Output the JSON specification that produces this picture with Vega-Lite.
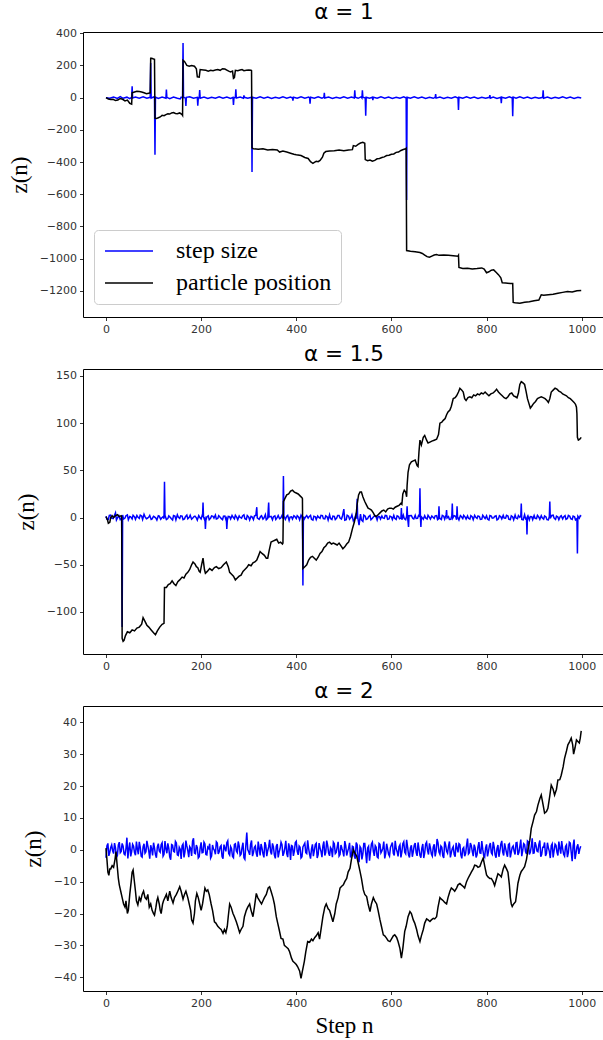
{
"$schema": "https://vega.github.io/schema/vega-lite/v6.json",
"autosize": {"type": "none"},
"padding": {"left": 83, "top": 32, "right": 520, "bottom": 1008},
"background": "white",
"config": {
  "view": {"stroke": "#000", "strokeWidth": 1},
  "axis": {"labelFont": "DejaVu Sans", "labelFontSize": 11, "labelColor": "#333", "tickColor": "#000", "tickSize": 3.5, "tickWidth": 0.8, "domain": false, "grid": false, "labelPadding": 3, "labelFlush": false, "labelOverlap": false, "format": "d", "titleFont": "Liberation Serif", "titleFontSize": 23, "titleFontWeight": "normal", "titleColor": "#000"},
  "title": {"font": "DejaVu Sans", "fontSize": 21.5, "fontWeight": "normal", "color": "#000", "offset": 4, "frame": "group"},
  "style": {"group-title": {"font": "DejaVu Sans", "fontSize": 21.5, "fontWeight": "normal", "fill": "#000"}},
  "line": {"strokeWidth": 1.5}
},
"datasets": {
"p1s": [{"n":0,"z":0},{"n":8,"z":-3},{"n":16,"z":4},{"n":24,"z":-5},{"n":30,"z":6},{"n":36,"z":-4},{"n":44,"z":3},{"n":50,"z":-6},{"n":54,"z":2},{"n":55,"z":70},{"n":56,"z":-2},{"n":62,"z":4},{"n":70,"z":-3},{"n":78,"z":5},{"n":86,"z":-4},{"n":93,"z":2},{"n":94,"z":215},{"n":95,"z":-3},{"n":100,"z":4},{"n":102,"z":-2},{"n":103,"z":-355},{"n":104,"z":3},{"n":110,"z":-5},{"n":118,"z":4},{"n":126,"z":-3},{"n":127,"z":50},{"n":128,"z":2},{"n":134,"z":-6},{"n":142,"z":4},{"n":150,"z":-4},{"n":156,"z":-8},{"n":158,"z":3},{"n":161,"z":-2},{"n":162,"z":340},{"n":163,"z":3},{"n":167,"z":-3},{"n":168,"z":-52},{"n":169,"z":2},{"n":176,"z":5},{"n":184,"z":-4},{"n":192,"z":2},{"n":193,"z":-50},{"n":194,"z":-3},{"n":196,"z":2},{"n":197,"z":48},{"n":198,"z":-3},{"n":206,"z":4},{"n":214,"z":-5},{"n":222,"z":3},{"n":230,"z":-4},{"n":238,"z":5},{"n":246,"z":-3},{"n":254,"z":4},{"n":262,"z":-5},{"n":267,"z":2},{"n":268,"z":-45},{"n":269,"z":-3},{"n":272,"z":3},{"n":273,"z":52},{"n":274,"z":-2},{"n":282,"z":4},{"n":289,"z":-3},{"n":290,"z":14},{"n":291,"z":2},{"n":298,"z":-4},{"n":306,"z":3},{"n":307,"z":-462},{"n":308,"z":2},{"n":316,"z":-4},{"n":324,"z":5},{"n":332,"z":-3},{"n":340,"z":4},{"n":348,"z":-5},{"n":356,"z":3},{"n":364,"z":-4},{"n":372,"z":5},{"n":380,"z":-3},{"n":388,"z":4},{"n":392,"z":-2},{"n":393,"z":-18},{"n":394,"z":3},{"n":402,"z":-4},{"n":410,"z":5},{"n":418,"z":-3},{"n":426,"z":4},{"n":428,"z":-2},{"n":429,"z":-38},{"n":430,"z":3},{"n":438,"z":-4},{"n":446,"z":5},{"n":454,"z":-3},{"n":458,"z":2},{"n":459,"z":30},{"n":460,"z":-2},{"n":468,"z":4},{"n":476,"z":-5},{"n":484,"z":3},{"n":492,"z":-4},{"n":500,"z":5},{"n":508,"z":-3},{"n":516,"z":4},{"n":522,"z":-2},{"n":523,"z":45},{"n":524,"z":3},{"n":530,"z":-4},{"n":536,"z":5},{"n":538,"z":-2},{"n":539,"z":45},{"n":540,"z":3},{"n":545,"z":-2},{"n":546,"z":-112},{"n":547,"z":3},{"n":554,"z":-4},{"n":560,"z":2},{"n":561,"z":-15},{"n":562,"z":3},{"n":570,"z":-4},{"n":578,"z":5},{"n":586,"z":-3},{"n":594,"z":4},{"n":602,"z":-5},{"n":610,"z":3},{"n":618,"z":-4},{"n":626,"z":5},{"n":631,"z":-2},{"n":632,"z":-636},{"n":633,"z":3},{"n":640,"z":-4},{"n":648,"z":5},{"n":656,"z":-3},{"n":664,"z":4},{"n":672,"z":-5},{"n":680,"z":3},{"n":688,"z":-4},{"n":692,"z":2},{"n":693,"z":22},{"n":694,"z":-3},{"n":702,"z":4},{"n":710,"z":-5},{"n":718,"z":3},{"n":726,"z":-4},{"n":734,"z":5},{"n":740,"z":-2},{"n":741,"z":-76},{"n":742,"z":3},{"n":750,"z":-4},{"n":758,"z":5},{"n":766,"z":-3},{"n":774,"z":4},{"n":782,"z":-5},{"n":790,"z":3},{"n":798,"z":-4},{"n":806,"z":2},{"n":807,"z":16},{"n":808,"z":-3},{"n":814,"z":4},{"n":822,"z":-5},{"n":830,"z":2},{"n":831,"z":-35},{"n":832,"z":3},{"n":840,"z":-4},{"n":848,"z":5},{"n":854,"z":-2},{"n":855,"z":-115},{"n":856,"z":3},{"n":862,"z":-4},{"n":870,"z":5},{"n":878,"z":-3},{"n":886,"z":4},{"n":894,"z":-5},{"n":902,"z":3},{"n":910,"z":-4},{"n":918,"z":2},{"n":919,"z":45},{"n":920,"z":-3},{"n":928,"z":4},{"n":936,"z":-5},{"n":944,"z":3},{"n":952,"z":-4},{"n":960,"z":5},{"n":968,"z":-3},{"n":976,"z":4},{"n":984,"z":-5},{"n":992,"z":3},{"n":999,"z":-2}],
"p1p": [{"n":0,"z":0},{"n":5,"z":-8},{"n":10,"z":-12},{"n":15,"z":-10},{"n":20,"z":-18},{"n":25,"z":-15},{"n":30,"z":-5},{"n":35,"z":-10},{"n":40,"z":-20},{"n":45,"z":-15},{"n":50,"z":-35},{"n":54,"z":-40},{"n":55,"z":30},{"n":60,"z":35},{"n":65,"z":40},{"n":70,"z":38},{"n":75,"z":35},{"n":80,"z":30},{"n":85,"z":25},{"n":90,"z":28},{"n":93,"z":30},{"n":94,"z":245},{"n":96,"z":245},{"n":100,"z":240},{"n":102,"z":238},{"n":103,"z":-128},{"n":106,"z":-130},{"n":110,"z":-125},{"n":114,"z":-120},{"n":118,"z":-110},{"n":122,"z":-112},{"n":126,"z":-105},{"n":130,"z":-100},{"n":134,"z":-102},{"n":138,"z":-95},{"n":142,"z":-92},{"n":146,"z":-98},{"n":150,"z":-100},{"n":155,"z":-95},{"n":160,"z":-105},{"n":161,"z":-110},{"n":162,"z":232},{"n":165,"z":225},{"n":170,"z":200},{"n":175,"z":195},{"n":180,"z":200},{"n":186,"z":195},{"n":190,"z":180},{"n":192,"z":130},{"n":196,"z":128},{"n":198,"z":175},{"n":205,"z":172},{"n":210,"z":170},{"n":215,"z":165},{"n":220,"z":170},{"n":225,"z":168},{"n":230,"z":172},{"n":235,"z":175},{"n":240,"z":170},{"n":245,"z":180},{"n":250,"z":178},{"n":255,"z":170},{"n":258,"z":165},{"n":262,"z":160},{"n":266,"z":165},{"n":268,"z":120},{"n":270,"z":125},{"n":272,"z":170},{"n":277,"z":168},{"n":282,"z":172},{"n":286,"z":175},{"n":290,"z":168},{"n":295,"z":170},{"n":300,"z":172},{"n":305,"z":170},{"n":306,"z":168},{"n":307,"z":-312},{"n":310,"z":-318},{"n":320,"z":-320},{"n":330,"z":-318},{"n":340,"z":-325},{"n":350,"z":-322},{"n":360,"z":-325},{"n":365,"z":-338},{"n":372,"z":-332},{"n":380,"z":-338},{"n":388,"z":-345},{"n":395,"z":-352},{"n":400,"z":-355},{"n":410,"z":-360},{"n":418,"z":-372},{"n":425,"z":-378},{"n":430,"z":-398},{"n":435,"z":-408},{"n":438,"z":-402},{"n":442,"z":-396},{"n":446,"z":-398},{"n":450,"z":-390},{"n":455,"z":-370},{"n":458,"z":-345},{"n":462,"z":-335},{"n":470,"z":-332},{"n":480,"z":-330},{"n":490,"z":-325},{"n":500,"z":-330},{"n":510,"z":-325},{"n":518,"z":-323},{"n":520,"z":-298},{"n":525,"z":-302},{"n":530,"z":-290},{"n":535,"z":-282},{"n":540,"z":-278},{"n":544,"z":-283},{"n":545,"z":-385},{"n":550,"z":-392},{"n":555,"z":-388},{"n":560,"z":-395},{"n":565,"z":-390},{"n":570,"z":-380},{"n":575,"z":-378},{"n":580,"z":-372},{"n":585,"z":-368},{"n":590,"z":-360},{"n":595,"z":-358},{"n":600,"z":-352},{"n":605,"z":-350},{"n":610,"z":-340},{"n":615,"z":-338},{"n":620,"z":-328},{"n":625,"z":-322},{"n":630,"z":-318},{"n":631,"z":-315},{"n":632,"z":-950},{"n":640,"z":-955},{"n":650,"z":-958},{"n":660,"z":-962},{"n":665,"z":-968},{"n":670,"z":-978},{"n":675,"z":-988},{"n":680,"z":-992},{"n":685,"z":-985},{"n":690,"z":-978},{"n":695,"z":-975},{"n":700,"z":-980},{"n":710,"z":-978},{"n":720,"z":-980},{"n":730,"z":-982},{"n":740,"z":-985},{"n":741,"z":-980},{"n":742,"z":-1055},{"n":750,"z":-1062},{"n":760,"z":-1060},{"n":770,"z":-1065},{"n":780,"z":-1062},{"n":790,"z":-1058},{"n":795,"z":-1065},{"n":800,"z":-1088},{"n":805,"z":-1082},{"n":810,"z":-1072},{"n":815,"z":-1070},{"n":820,"z":-1085},{"n":825,"z":-1100},{"n":830,"z":-1120},{"n":833,"z":-1150},{"n":840,"z":-1152},{"n":850,"z":-1155},{"n":855,"z":-1155},{"n":856,"z":-1272},{"n":860,"z":-1275},{"n":870,"z":-1278},{"n":880,"z":-1272},{"n":890,"z":-1268},{"n":900,"z":-1262},{"n":910,"z":-1258},{"n":915,"z":-1225},{"n":920,"z":-1228},{"n":930,"z":-1225},{"n":940,"z":-1222},{"n":950,"z":-1215},{"n":960,"z":-1210},{"n":970,"z":-1205},{"n":980,"z":-1208},{"n":990,"z":-1200},{"n":999,"z":-1198}],
"p2s": [{"n":0,"z":1.5},{"n":5,"z":-2},{"n":10,"z":2.5},{"n":15,"z":-1},{"n":20,"z":5},{"n":25,"z":0.5},{"n":30,"z":-2.2},{"n":33,"z":1},{"n":34,"z":-116},{"n":35,"z":2.8},{"n":40,"z":-0.5},{"n":45,"z":2.8},{"n":50,"z":1.2},{"n":55,"z":-1.5},{"n":60,"z":0.8},{"n":65,"z":2.2},{"n":70,"z":-0.8},{"n":75,"z":1.6},{"n":80,"z":3.5},{"n":85,"z":-1.2},{"n":90,"z":0.6},{"n":95,"z":-2},{"n":100,"z":1.4},{"n":105,"z":-0.6},{"n":110,"z":2},{"n":115,"z":-1.8},{"n":120,"z":0.9},{"n":122,"z":-1},{"n":123,"z":38},{"n":124,"z":2.4},{"n":130,"z":-1.1},{"n":135,"z":0.3},{"n":140,"z":-2.6},{"n":145,"z":1.7},{"n":150,"z":3},{"n":155,"z":-0.9},{"n":160,"z":1.5},{"n":165,"z":-1.4},{"n":170,"z":2.6},{"n":175,"z":0.4},{"n":180,"z":-1.7},{"n":185,"z":1.1},{"n":190,"z":-0.3},{"n":195,"z":2.1},{"n":200,"z":-1.5},{"n":203,"z":0.8},{"n":204,"z":16},{"n":205,"z":0.8},{"n":208,"z":-1},{"n":209,"z":-12},{"n":210,"z":-2.8},{"n":215,"z":1.9},{"n":220,"z":-0.6},{"n":225,"z":1.3},{"n":230,"z":2.7},{"n":235,"z":-1},{"n":240,"z":0.5},{"n":245,"z":-2.2},{"n":250,"z":1.6},{"n":253,"z":-1},{"n":254,"z":-12},{"n":255,"z":-3.2},{"n":260,"z":0.9},{"n":265,"z":2.3},{"n":270,"z":-1.3},{"n":275,"z":0.2},{"n":280,"z":1.8},{"n":285,"z":-0.7},{"n":290,"z":2.9},{"n":295,"z":-1.9},{"n":300,"z":0.6},{"n":305,"z":1.4},{"n":310,"z":-2.1},{"n":315,"z":2.5},{"n":317,"z":11},{"n":318,"z":-0.4},{"n":325,"z":1.1},{"n":330,"z":-1.6},{"n":335,"z":3.2},{"n":340,"z":-0.8},{"n":342,"z":16},{"n":343,"z":0.7},{"n":350,"z":-2.4},{"n":355,"z":1.9},{"n":360,"z":0.3},{"n":365,"z":-1.2},{"n":370,"z":2.2},{"n":372,"z":-0.9},{"n":373,"z":44},{"n":374,"z":1.5},{"n":380,"z":1.5},{"n":385,"z":-3},{"n":390,"z":0.8},{"n":395,"z":2},{"n":400,"z":-1.1},{"n":405,"z":0.5},{"n":410,"z":2.6},{"n":413,"z":-1.8},{"n":414,"z":-72},{"n":415,"z":1},{"n":420,"z":1},{"n":425,"z":-0.5},{"n":430,"z":2.4},{"n":435,"z":-2.7},{"n":440,"z":0.9},{"n":445,"z":1.7},{"n":450,"z":-0.8},{"n":455,"z":2.1},{"n":460,"z":-1.5},{"n":465,"z":0.6},{"n":470,"z":3.1},{"n":475,"z":-2},{"n":480,"z":1.2},{"n":485,"z":-0.4},{"n":490,"z":2.3},{"n":495,"z":-1.6},{"n":500,"z":9},{"n":505,"z":-2.3},{"n":510,"z":1.4},{"n":515,"z":0.2},{"n":520,"z":-3.5},{"n":525,"z":2.8},{"n":527,"z":-1},{"n":528,"z":20},{"n":529,"z":1},{"n":532,"z":-8},{"n":535,"z":3.6},{"n":540,"z":-4},{"n":545,"z":1.5},{"n":550,"z":-1.2},{"n":555,"z":2.4},{"n":560,"z":-0.6},{"n":565,"z":1.8},{"n":570,"z":-2.5},{"n":575,"z":0.9},{"n":580,"z":1.6},{"n":585,"z":-0.8},{"n":590,"z":2},{"n":595,"z":-1.4},{"n":600,"z":0.7},{"n":605,"z":2.3},{"n":610,"z":-1.9},{"n":615,"z":1.1},{"n":620,"z":-0.5},{"n":621,"z":10},{"n":622,"z":-2.2},{"n":625,"z":2.6},{"n":630,"z":-2.2},{"n":633,"z":12},{"n":634,"z":0.4},{"n":636,"z":-10},{"n":637,"z":1.9},{"n":645,"z":-1},{"n":650,"z":2.5},{"n":655,"z":-0.7},{"n":659,"z":1.3},{"n":660,"z":31},{"n":661,"z":0.5},{"n":662,"z":-10},{"n":663,"z":0.8},{"n":670,"z":2},{"n":675,"z":-1.5},{"n":680,"z":0.3},{"n":685,"z":1.7},{"n":690,"z":-0.9},{"n":695,"z":2.2},{"n":699,"z":-1.3},{"n":700,"z":12},{"n":701,"z":0.6},{"n":705,"z":-2},{"n":710,"z":1.5},{"n":715,"z":2.8},{"n":716,"z":8},{"n":717,"z":-0.4},{"n":720,"z":1},{"n":725,"z":-1.8},{"n":727,"z":2.3},{"n":728,"z":15},{"n":729,"z":-0.6},{"n":735,"z":1.4},{"n":737,"z":-2.3},{"n":738,"z":12},{"n":739,"z":0.9},{"n":745,"z":2.1},{"n":750,"z":-1.1},{"n":755,"z":0.5},{"n":760,"z":1.8},{"n":765,"z":-1.6},{"n":770,"z":0.7},{"n":775,"z":2.4},{"n":780,"z":-0.9},{"n":785,"z":1.2},{"n":790,"z":-1.7},{"n":795,"z":0.4},{"n":800,"z":2},{"n":805,"z":-2.6},{"n":810,"z":1.5},{"n":815,"z":-0.3},{"n":820,"z":1.9},{"n":825,"z":-1.4},{"n":830,"z":0.8},{"n":835,"z":2.3},{"n":840,"z":-0.7},{"n":845,"z":1.6},{"n":850,"z":-2.1},{"n":855,"z":0.6},{"n":860,"z":2.7},{"n":865,"z":-1.2},{"n":870,"z":0.3},{"n":872,"z":1.8},{"n":873,"z":15},{"n":874,"z":-1.9},{"n":880,"z":3},{"n":884,"z":-0.5},{"n":885,"z":-18},{"n":886,"z":1.1},{"n":890,"z":-2.3},{"n":895,"z":0.9},{"n":900,"z":2.2},{"n":905,"z":-1},{"n":910,"z":0.4},{"n":915,"z":2},{"n":920,"z":-1.6},{"n":925,"z":0.7},{"n":930,"z":-2.4},{"n":932,"z":1.3},{"n":933,"z":17},{"n":934,"z":-0.8},{"n":940,"z":2.5},{"n":945,"z":-1.9},{"n":950,"z":0.6},{"n":955,"z":1.2},{"n":960,"z":-1.5},{"n":965,"z":2.1},{"n":970,"z":-0.9},{"n":975,"z":1.4},{"n":980,"z":-2},{"n":985,"z":0.8},{"n":990,"z":-1.1},{"n":991,"z":-38},{"n":992,"z":1.5},{"n":995,"z":-0.6},{"n":999,"z":1.2},
{"n":2,"z":-1.8},{"n":7,"z":2.2},{"n":12,"z":-0.6},{"n":17,"z":1.4},{"n":22,"z":-2.5},{"n":27,"z":2},{"n":32,"z":-1.2},{"n":37,"z":-1.6},{"n":42,"z":1.9},{"n":47,"z":-2.3},{"n":52,"z":0.7},{"n":57,"z":2.4},{"n":62,"z":-1.9},{"n":67,"z":0.5},{"n":72,"z":2.6},{"n":77,"z":-2},{"n":82,"z":1.1},{"n":87,"z":-0.7},{"n":92,"z":2.3},{"n":97,"z":-1.4},{"n":102,"z":0.8},{"n":107,"z":-2.6},{"n":112,"z":1.5},{"n":117,"z":-0.4},{"n":127,"z":-2.1},{"n":132,"z":1.8},{"n":137,"z":-1},{"n":142,"z":2.2},{"n":147,"z":-2.4},{"n":152,"z":0.6},{"n":157,"z":1.9},{"n":162,"z":-2.2},{"n":167,"z":0.9},{"n":172,"z":-1.3},{"n":177,"z":2.5},{"n":182,"z":-0.8},{"n":187,"z":1.6},{"n":192,"z":-2.7},{"n":197,"z":0.4},{"n":202,"z":2},{"n":207,"z":-1.9},{"n":212,"z":0.7},{"n":217,"z":-2.3},{"n":222,"z":1.8},{"n":227,"z":-0.5},{"n":232,"z":-1.6},{"n":237,"z":2.1},{"n":242,"z":-0.9},{"n":247,"z":1.4},{"n":252,"z":-2},{"n":257,"z":1.2},{"n":262,"z":-1.5},{"n":267,"z":0.6},{"n":272,"z":2.4},{"n":277,"z":-2.2},{"n":282,"z":0.3},{"n":287,"z":1.7},{"n":292,"z":-1.1},{"n":297,"z":2.2},{"n":302,"z":-2.5},{"n":307,"z":0.9},{"n":312,"z":1.6},{"n":322,"z":-1.8},{"n":327,"z":2},{"n":332,"z":-0.6},{"n":337,"z":-2.2},{"n":347,"z":1.3},{"n":352,"z":1},{"n":357,"z":-2},{"n":362,"z":2.3},{"n":367,"z":-0.7},{"n":377,"z":-1.9},{"n":382,"z":2.4},{"n":387,"z":0.5},{"n":392,"z":-1.6},{"n":397,"z":1.1},{"n":402,"z":2.1},{"n":407,"z":-2.4},{"n":412,"z":0.8},{"n":417,"z":-1.5},{"n":422,"z":2.2},{"n":427,"z":1},{"n":432,"z":-1.8},{"n":437,"z":1.5},{"n":442,"z":-2.1},{"n":447,"z":0.4},{"n":452,"z":2.4},{"n":457,"z":-1.2},{"n":462,"z":1.8},{"n":467,"z":-2.6},{"n":472,"z":-0.9},{"n":477,"z":1.6},{"n":482,"z":-2},{"n":487,"z":2.2},{"n":492,"z":-0.5},{"n":497,"z":1.3},{"n":502,"z":-2.8},{"n":507,"z":2.5},{"n":512,"z":-1.7},{"n":517,"z":2.9},{"n":522,"z":-2.4},{"n":537,"z":-2.5},{"n":542,"z":2.6},{"n":547,"z":-1.9},{"n":552,"z":1},{"n":557,"z":-2.3},{"n":562,"z":0.6},{"n":567,"z":2},{"n":572,"z":1.2},{"n":577,"z":-1.6},{"n":582,"z":-0.4},{"n":587,"z":2.3},{"n":592,"z":-1.8},{"n":597,"z":1.5},{"n":602,"z":-2},{"n":607,"z":-0.8},{"n":612,"z":1.9},{"n":617,"z":-1.3},{"n":627,"z":-1},{"n":632,"z":1.5},{"n":642,"z":2.1},{"n":647,"z":-1.4},{"n":652,"z":-0.9},{"n":657,"z":2.2},{"n":667,"z":-1.8},{"n":672,"z":-0.4},{"n":677,"z":2.4},{"n":682,"z":-1.6},{"n":687,"z":0.7},{"n":692,"z":1.9},{"n":697,"z":-2.2},{"n":702,"z":-1},{"n":707,"z":2.3},{"n":712,"z":-1.7},{"n":722,"z":-2},{"n":732,"z":2},{"n":742,"z":-2.4},{"n":747,"z":1.1},{"n":752,"z":2.3},{"n":757,"z":-1.5},{"n":762,"z":-0.7},{"n":767,"z":2.1},{"n":772,"z":-2.2},{"n":777,"z":0.5},{"n":782,"z":1.8},{"n":787,"z":-1.9},{"n":792,"z":2.5},{"n":797,"z":-1},{"n":802,"z":-1.5},{"n":807,"z":2.2},{"n":812,"z":-0.6},{"n":817,"z":1.4},{"n":822,"z":-2.5},{"n":827,"z":2},{"n":832,"z":-1.3},{"n":837,"z":-0.5},{"n":842,"z":2.4},{"n":847,"z":-1.9},{"n":852,"z":1.8},{"n":857,"z":-2.4},{"n":862,"z":-0.5},{"n":867,"z":2.1},{"n":877,"z":-2.3},{"n":882,"z":-1.2},{"n":887,"z":2},{"n":892,"z":1.1},{"n":897,"z":-2.1},{"n":902,"z":-0.7},{"n":907,"z":2.4},{"n":912,"z":-1.8},{"n":917,"z":-0.3},{"n":922,"z":1.7},{"n":927,"z":-2.2},{"n":937,"z":2.2},{"n":942,"z":-0.6},{"n":947,"z":1.6},{"n":952,"z":-2.3},{"n":957,"z":2},{"n":962,"z":0.7},{"n":967,"z":-1.8},{"n":972,"z":2.3},{"n":977,"z":-1.2},{"n":982,"z":1.5},{"n":987,"z":-2.4},{"n":997,"z":2}],
"p2p": [{"n":0,"z":1},{"n":3,"z":-2},{"n":5,"z":-6},{"n":8,"z":-5},{"n":10,"z":0},{"n":13,"z":2},{"n":16,"z":0},{"n":20,"z":2},{"n":24,"z":3},{"n":28,"z":1},{"n":32,"z":2},{"n":33,"z":1},{"n":34,"z":-128},{"n":36,"z":-131},{"n":38,"z":-130},{"n":41,"z":-125},{"n":45,"z":-121},{"n":50,"z":-122},{"n":55,"z":-119},{"n":60,"z":-120},{"n":65,"z":-117},{"n":70,"z":-116},{"n":75,"z":-113},{"n":78,"z":-106},{"n":82,"z":-110},{"n":86,"z":-114},{"n":90,"z":-116},{"n":95,"z":-119},{"n":100,"z":-122},{"n":104,"z":-124},{"n":108,"z":-120},{"n":113,"z":-116},{"n":118,"z":-113},{"n":122,"z":-112},{"n":123,"z":-74},{"n":127,"z":-74},{"n":131,"z":-71},{"n":135,"z":-70},{"n":139,"z":-67},{"n":143,"z":-70},{"n":147,"z":-72},{"n":151,"z":-68},{"n":155,"z":-66},{"n":160,"z":-63},{"n":164,"z":-64},{"n":168,"z":-60},{"n":172,"z":-58},{"n":176,"z":-55},{"n":180,"z":-50},{"n":183,"z":-47},{"n":187,"z":-49},{"n":190,"z":-52},{"n":193,"z":-53},{"n":196,"z":-57},{"n":198,"z":-58},{"n":201,"z":-50},{"n":204,"z":-43},{"n":207,"z":-55},{"n":209,"z":-59},{"n":213,"z":-57},{"n":218,"z":-54},{"n":223,"z":-56},{"n":228,"z":-53},{"n":232,"z":-52},{"n":237,"z":-54},{"n":242,"z":-53},{"n":247,"z":-50},{"n":253,"z":-47},{"n":257,"z":-52},{"n":260,"z":-58},{"n":264,"z":-60},{"n":268,"z":-62},{"n":272,"z":-66},{"n":276,"z":-64},{"n":280,"z":-62},{"n":284,"z":-61},{"n":288,"z":-57},{"n":292,"z":-55},{"n":296,"z":-53},{"n":300,"z":-50},{"n":305,"z":-51},{"n":309,"z":-48},{"n":313,"z":-47},{"n":317,"z":-45},{"n":321,"z":-40},{"n":324,"z":-36},{"n":328,"z":-38},{"n":333,"z":-40},{"n":337,"z":-43},{"n":340,"z":-43},{"n":343,"z":-35},{"n":347,"z":-26},{"n":351,"z":-25},{"n":355,"z":-24},{"n":359,"z":-23},{"n":363,"z":-27},{"n":367,"z":-26},{"n":371,"z":-28},{"n":372,"z":-27},{"n":373,"z":17},{"n":376,"z":20},{"n":380,"z":24},{"n":384,"z":25},{"n":388,"z":28},{"n":392,"z":29},{"n":396,"z":27},{"n":400,"z":26},{"n":404,"z":25},{"n":408,"z":23},{"n":412,"z":21},{"n":413,"z":20},{"n":414,"z":-54},{"n":418,"z":-52},{"n":422,"z":-50},{"n":426,"z":-45},{"n":430,"z":-42},{"n":434,"z":-41},{"n":438,"z":-43},{"n":442,"z":-45},{"n":446,"z":-42},{"n":450,"z":-38},{"n":454,"z":-36},{"n":458,"z":-32},{"n":462,"z":-30},{"n":466,"z":-27},{"n":470,"z":-26},{"n":474,"z":-28},{"n":478,"z":-27},{"n":482,"z":-28},{"n":486,"z":-29},{"n":490,"z":-27},{"n":494,"z":-30},{"n":498,"z":-33},{"n":502,"z":-31},{"n":506,"z":-28},{"n":510,"z":-26},{"n":514,"z":-20},{"n":518,"z":-12},{"n":522,"z":-5},{"n":526,"z":4},{"n":528,"z":14},{"n":531,"z":24},{"n":534,"z":27},{"n":537,"z":27},{"n":540,"z":22},{"n":544,"z":17},{"n":548,"z":13},{"n":551,"z":10},{"n":555,"z":9},{"n":558,"z":8},{"n":562,"z":5},{"n":565,"z":2},{"n":568,"z":1},{"n":572,"z":3},{"n":576,"z":5},{"n":580,"z":7},{"n":584,"z":8},{"n":588,"z":6},{"n":592,"z":9},{"n":596,"z":10},{"n":600,"z":10},{"n":604,"z":9},{"n":608,"z":11},{"n":612,"z":12},{"n":616,"z":13},{"n":620,"z":15},{"n":622,"z":14},{"n":624,"z":25},{"n":627,"z":29},{"n":630,"z":27},{"n":632,"z":22},{"n":633,"z":34},{"n":635,"z":48},{"n":638,"z":56},{"n":642,"z":59},{"n":646,"z":60},{"n":650,"z":61},{"n":654,"z":55},{"n":656,"z":54},{"n":658,"z":70},{"n":660,"z":82},{"n":663,"z":77},{"n":667,"z":85},{"n":670,"z":87},{"n":674,"z":82},{"n":677,"z":79},{"n":681,"z":80},{"n":685,"z":81},{"n":690,"z":82},{"n":695,"z":83},{"n":699,"z":88},{"n":702,"z":100},{"n":706,"z":101},{"n":709,"z":103},{"n":713,"z":105},{"n":716,"z":109},{"n":719,"z":112},{"n":723,"z":114},{"n":726,"z":118},{"n":730,"z":126},{"n":734,"z":127},{"n":737,"z":129},{"n":741,"z":133},{"n":744,"z":137},{"n":748,"z":135},{"n":751,"z":133},{"n":754,"z":126},{"n":757,"z":124},{"n":761,"z":127},{"n":765,"z":128},{"n":769,"z":127},{"n":773,"z":130},{"n":777,"z":129},{"n":781,"z":131},{"n":785,"z":130},{"n":789,"z":132},{"n":793,"z":131},{"n":797,"z":133},{"n":801,"z":131},{"n":805,"z":129},{"n":809,"z":131},{"n":814,"z":132},{"n":818,"z":134},{"n":821,"z":136},{"n":825,"z":133},{"n":829,"z":131},{"n":833,"z":129},{"n":837,"z":127},{"n":841,"z":126},{"n":845,"z":128},{"n":849,"z":131},{"n":853,"z":132},{"n":857,"z":129},{"n":861,"z":128},{"n":864,"z":127},{"n":867,"z":132},{"n":870,"z":141},{"n":873,"z":144},{"n":876,"z":143},{"n":880,"z":141},{"n":883,"z":134},{"n":886,"z":126},{"n":889,"z":121},{"n":892,"z":116},{"n":895,"z":118},{"n":899,"z":121},{"n":903,"z":123},{"n":907,"z":126},{"n":911,"z":127},{"n":915,"z":128},{"n":919,"z":127},{"n":923,"z":126},{"n":927,"z":124},{"n":930,"z":122},{"n":933,"z":126},{"n":936,"z":133},{"n":940,"z":135},{"n":944,"z":137},{"n":948,"z":136},{"n":952,"z":134},{"n":956,"z":133},{"n":960,"z":131},{"n":964,"z":130},{"n":968,"z":129},{"n":972,"z":127},{"n":976,"z":126},{"n":980,"z":124},{"n":984,"z":122},{"n":987,"z":120},{"n":989,"z":117},{"n":990,"z":110},{"n":991,"z":85},{"n":993,"z":82},{"n":996,"z":83},{"n":999,"z":85}],
"p3s": [{"n":0,"z":-2.5},{"n":4,"z":2},{"n":8,"z":-0.8},{"n":12,"z":1.5},{"n":16,"z":-1.2},{"n":20,"z":0.6},{"n":24,"z":-1.8},{"n":28,"z":2.4},{"n":32,"z":-0.5},{"n":36,"z":1.1},{"n":40,"z":-1.6},{"n":44,"z":3.8},{"n":48,"z":0.4},{"n":52,"z":-2.1},{"n":56,"z":1.7},{"n":60,"z":-0.9},{"n":64,"z":2.6},{"n":68,"z":-1.4},{"n":72,"z":0.8},{"n":76,"z":-2.3},{"n":80,"z":1.9},{"n":84,"z":-0.6},{"n":88,"z":1.2},{"n":92,"z":-2.8},{"n":96,"z":0.3},{"n":100,"z":2.2},{"n":104,"z":-1.5},{"n":108,"z":0.9},{"n":112,"z":-0.4},{"n":116,"z":1.6},{"n":120,"z":-2},{"n":124,"z":2.7},{"n":128,"z":-1.1},{"n":132,"z":0.5},{"n":136,"z":-3.1},{"n":140,"z":1.4},{"n":144,"z":-0.7},{"n":148,"z":2.1},{"n":152,"z":-1.8},{"n":156,"z":0.2},{"n":160,"z":1.3},{"n":164,"z":-2.4},{"n":168,"z":2.9},{"n":172,"z":-0.3},{"n":176,"z":1},{"n":180,"z":-1.9},{"n":184,"z":3.6},{"n":188,"z":-1.2},{"n":192,"z":0.7},{"n":196,"z":-2.2},{"n":200,"z":2.3},{"n":204,"z":-0.8},{"n":208,"z":1.8},{"n":212,"z":-1.6},{"n":216,"z":0.4},{"n":220,"z":-2.6},{"n":224,"z":1.5},{"n":228,"z":-0.2},{"n":232,"z":2.5},{"n":236,"z":-1.3},{"n":240,"z":0.9},{"n":244,"z":-2.1},{"n":248,"z":1.6},{"n":252,"z":-0.5},{"n":256,"z":2.8},{"n":260,"z":-1.7},{"n":264,"z":0.3},{"n":268,"z":-2.5},{"n":272,"z":1.9},{"n":276,"z":-0.9},{"n":280,"z":1.2},{"n":284,"z":-1.4},{"n":288,"z":2.2},{"n":292,"z":-3},{"n":296,"z":5.4},{"n":300,"z":-0.6},{"n":304,"z":1.7},{"n":308,"z":-2},{"n":312,"z":0.8},{"n":316,"z":-1.1},{"n":320,"z":2.6},{"n":324,"z":-1.8},{"n":328,"z":0.5},{"n":332,"z":-2.4},{"n":336,"z":1.4},{"n":340,"z":-0.3},{"n":344,"z":3.1},{"n":348,"z":-1.5},{"n":352,"z":0.9},{"n":356,"z":-2.7},{"n":360,"z":1.8},{"n":364,"z":-0.7},{"n":368,"z":2.4},{"n":372,"z":-1.9},{"n":376,"z":0.6},{"n":380,"z":-1.2},{"n":384,"z":2},{"n":388,"z":-3.2},{"n":392,"z":1.1},{"n":396,"z":-0.4},{"n":400,"z":2.7},{"n":404,"z":-1.6},{"n":408,"z":0.8},{"n":412,"z":-2.2},{"n":416,"z":1.5},{"n":420,"z":-0.9},{"n":424,"z":3},{"n":428,"z":-1.4},{"n":432,"z":0.2},{"n":436,"z":-2},{"n":440,"z":1.6},{"n":444,"z":-2.6},{"n":448,"z":2.1},{"n":452,"z":-0.5},{"n":456,"z":1.2},{"n":460,"z":-1.8},{"n":464,"z":2.9},{"n":468,"z":-1},{"n":472,"z":0.7},{"n":476,"z":-2.3},{"n":480,"z":1.9},{"n":484,"z":-0.8},{"n":488,"z":2.5},{"n":492,"z":-1.5},{"n":496,"z":0.4},{"n":500,"z":-2.1},{"n":504,"z":1.3},{"n":508,"z":-0.6},{"n":512,"z":2.2},{"n":516,"z":-1.7},{"n":520,"z":0.9},{"n":524,"z":-2.8},{"n":528,"z":1.6},{"n":532,"z":-3.9},{"n":536,"z":0.5},{"n":540,"z":-1.3},{"n":544,"z":2},{"n":548,"z":-4.2},{"n":552,"z":1.1},{"n":556,"z":-0.7},{"n":560,"z":2.4},{"n":564,"z":-1.9},{"n":568,"z":0.8},{"n":572,"z":-2.5},{"n":576,"z":1.7},{"n":580,"z":-0.4},{"n":584,"z":2.6},{"n":588,"z":-1.2},{"n":592,"z":0.3},{"n":596,"z":-2},{"n":600,"z":1.5},{"n":604,"z":-1.1},{"n":608,"z":2.8},{"n":612,"z":-0.6},{"n":616,"z":1},{"n":620,"z":-2.4},{"n":624,"z":1.9},{"n":628,"z":-0.8},{"n":632,"z":3.1},{"n":636,"z":-1.6},{"n":640,"z":0.6},{"n":644,"z":-2.2},{"n":648,"z":1.4},{"n":652,"z":-0.9},{"n":656,"z":2.3},{"n":660,"z":-1.7},{"n":664,"z":0.5},{"n":668,"z":-2.6},{"n":672,"z":1.8},{"n":676,"z":-0.3},{"n":680,"z":2},{"n":684,"z":-1.3},{"n":688,"z":0.9},{"n":692,"z":-2.1},{"n":696,"z":3.4},{"n":700,"z":-0.7},{"n":704,"z":1.2},{"n":708,"z":-1.9},{"n":712,"z":2.6},{"n":716,"z":-0.5},{"n":720,"z":1.1},{"n":724,"z":-2.4},{"n":728,"z":0.4},{"n":732,"z":-1.5},{"n":736,"z":2.2},{"n":740,"z":-0.8},{"n":744,"z":1.6},{"n":748,"z":-2.7},{"n":752,"z":0.7},{"n":756,"z":-1.2},{"n":760,"z":3.5},{"n":764,"z":-0.9},{"n":768,"z":1.3},{"n":772,"z":-2},{"n":776,"z":0.6},{"n":780,"z":-1.6},{"n":784,"z":2.4},{"n":788,"z":-1.1},{"n":792,"z":0.2},{"n":796,"z":-2.3},{"n":800,"z":1.7},{"n":804,"z":-0.6},{"n":808,"z":2.1},{"n":812,"z":-1.4},{"n":816,"z":0.9},{"n":820,"z":-2.5},{"n":824,"z":1.5},{"n":828,"z":-0.4},{"n":832,"z":2.8},{"n":836,"z":-1.8},{"n":840,"z":0.5},{"n":844,"z":-2.2},{"n":848,"z":1.9},{"n":852,"z":-0.7},{"n":856,"z":1.2},{"n":860,"z":-1.5},{"n":864,"z":2.3},{"n":868,"z":-0.9},{"n":872,"z":3.2},{"n":876,"z":-0.3},{"n":880,"z":1.6},{"n":884,"z":-1.3},{"n":888,"z":2.5},{"n":892,"z":-0.8},{"n":896,"z":3.6},{"n":900,"z":-1},{"n":904,"z":1.4},{"n":908,"z":-0.6},{"n":912,"z":2.9},{"n":916,"z":-1.4},{"n":920,"z":0.8},{"n":924,"z":-1.9},{"n":928,"z":2.2},{"n":932,"z":-0.5},{"n":936,"z":1.3},{"n":940,"z":-2.4},{"n":944,"z":1.8},{"n":948,"z":-0.7},{"n":952,"z":2.6},{"n":956,"z":-1.2},{"n":960,"z":0.4},{"n":964,"z":-2},{"n":968,"z":1.5},{"n":972,"z":-0.9},{"n":976,"z":2.1},{"n":980,"z":-3.6},{"n":984,"z":3.2},{"n":988,"z":-1.1},{"n":992,"z":1.7},{"n":996,"z":0.2},
{"n":2,"z":1.2},{"n":6,"z":-1.9},{"n":10,"z":0.7},{"n":14,"z":-0.3},{"n":18,"z":2.1},{"n":22,"z":-2.4},{"n":26,"z":1.5},{"n":30,"z":-0.9},{"n":34,"z":2},{"n":38,"z":-1.3},{"n":42,"z":0.4},{"n":46,"z":-2.7},{"n":50,"z":2.3},{"n":54,"z":-0.6},{"n":58,"z":1.1},{"n":62,"z":-1.7},{"n":66,"z":0.2},{"n":70,"z":2.5},{"n":74,"z":-2},{"n":78,"z":0.9},{"n":82,"z":-1.1},{"n":86,"z":2.8},{"n":90,"z":-0.4},{"n":94,"z":1.4},{"n":98,"z":-1.8},{"n":102,"z":0.6},{"n":106,"z":-2.5},{"n":110,"z":1.9},{"n":114,"z":-0.8},{"n":118,"z":2.2},{"n":122,"z":-1.4},{"n":126,"z":0.3},{"n":130,"z":2},{"n":134,"z":-2.2},{"n":138,"z":1.6},{"n":142,"z":-0.5},{"n":146,"z":2.6},{"n":150,"z":-1.6},{"n":154,"z":0.8},{"n":158,"z":-2.9},{"n":162,"z":1.8},{"n":166,"z":-0.7},{"n":170,"z":1.2},{"n":174,"z":-2.3},{"n":178,"z":0.5},{"n":182,"z":2.7},{"n":186,"z":-1},{"n":190,"z":1.5},{"n":194,"z":-2.6},{"n":198,"z":0.6},{"n":202,"z":-0.9},{"n":206,"z":2.4},{"n":210,"z":-1.5},{"n":214,"z":0.8},{"n":218,"z":1.9},{"n":222,"z":-2},{"n":226,"z":0.3},{"n":230,"z":-1.4},{"n":234,"z":2.1},{"n":238,"z":-0.6},{"n":242,"z":1.3},{"n":246,"z":-2.8},{"n":250,"z":0.5},{"n":254,"z":2.2},{"n":258,"z":-1.2},{"n":262,"z":1},{"n":266,"z":-2.1},{"n":270,"z":1.7},{"n":274,"z":-0.4},{"n":278,"z":2.6},{"n":282,"z":-1.8},{"n":286,"z":0.7},{"n":290,"z":-2.5},{"n":294,"z":1.4},{"n":298,"z":0.1},{"n":302,"z":-1.6},{"n":306,"z":2.9},{"n":310,"z":-0.9},{"n":314,"z":1.2},{"n":318,"z":-2.2},{"n":322,"z":0.6},{"n":326,"z":1.8},{"n":330,"z":-1.3},{"n":334,"z":2.4},{"n":338,"z":-2},{"n":342,"z":0.9},{"n":346,"z":-0.6},{"n":350,"z":2},{"n":354,"z":-1.7},{"n":358,"z":1.1},{"n":362,"z":-2.4},{"n":366,"z":0.4},{"n":370,"z":1.6},{"n":374,"z":-1},{"n":378,"z":2.8},{"n":382,"z":-2.3},{"n":386,"z":0.7},{"n":390,"z":1.3},{"n":394,"z":-1.9},{"n":398,"z":2.3},{"n":402,"z":-0.5},{"n":406,"z":1.2},{"n":410,"z":-2.6},{"n":414,"z":0.9},{"n":418,"z":2.1},{"n":422,"z":-1.2},{"n":426,"z":0.4},{"n":430,"z":-2.8},{"n":434,"z":1.7},{"n":438,"z":-0.3},{"n":442,"z":2},{"n":446,"z":-1.5},{"n":450,"z":0.6},{"n":454,"z":-2.3},{"n":458,"z":2.6},{"n":462,"z":-0.8},{"n":466,"z":1.4},{"n":470,"z":-1.9},{"n":474,"z":0.2},{"n":478,"z":2.4},{"n":482,"z":-1.2},{"n":486,"z":0.8},{"n":490,"z":-2},{"n":494,"z":1.5},{"n":498,"z":-0.6},{"n":502,"z":2.7},{"n":506,"z":-1.8},{"n":510,"z":0.5},{"n":514,"z":-2.4},{"n":518,"z":1.1},{"n":522,"z":-1.9},{"n":526,"z":2.3},{"n":530,"z":-2.6},{"n":534,"z":1},{"n":538,"z":-3},{"n":542,"z":2},{"n":546,"z":-1.1},{"n":550,"z":0.6},{"n":554,"z":-3.4},{"n":558,"z":1.8},{"n":562,"z":-0.5},{"n":566,"z":1.3},{"n":570,"z":-2.2},{"n":574,"z":2},{"n":578,"z":-1},{"n":582,"z":0.5},{"n":586,"z":-2.7},{"n":590,"z":1.9},{"n":594,"z":-1.4},{"n":598,"z":0.7},{"n":602,"z":2.3},{"n":606,"z":-1.8},{"n":610,"z":0.4},{"n":614,"z":-2.1},{"n":618,"z":1.6},{"n":622,"z":-0.7},{"n":626,"z":2.5},{"n":630,"z":-1.3},{"n":634,"z":0.9},{"n":638,"z":-2.4},{"n":642,"z":1.4},{"n":646,"z":-0.6},{"n":650,"z":2.1},{"n":654,"z":-1.9},{"n":658,"z":0.3},{"n":662,"z":-2.5},{"n":666,"z":1.8},{"n":670,"z":-1},{"n":674,"z":2.4},{"n":678,"z":-1.5},{"n":682,"z":0.6},{"n":686,"z":-2},{"n":690,"z":1.7},{"n":694,"z":-0.4},{"n":698,"z":2.2},{"n":702,"z":-1.4},{"n":706,"z":0.8},{"n":710,"z":-2.6},{"n":714,"z":1.5},{"n":718,"z":-1.1},{"n":722,"z":2.6},{"n":726,"z":-0.9},{"n":730,"z":1},{"n":734,"z":-2.2},{"n":738,"z":0.5},{"n":742,"z":1.9},{"n":746,"z":-1.6},{"n":750,"z":0.3},{"n":754,"z":-2},{"n":758,"z":1.4},{"n":762,"z":-1.3},{"n":766,"z":2.1},{"n":770,"z":-0.5},{"n":774,"z":1.6},{"n":778,"z":-2.4},{"n":782,"z":0.9},{"n":786,"z":-1},{"n":790,"z":2.7},{"n":794,"z":-1.8},{"n":798,"z":0.6},{"n":802,"z":-2.1},{"n":806,"z":1.3},{"n":810,"z":-0.9},{"n":814,"z":2.5},{"n":818,"z":-1.6},{"n":822,"z":0.4},{"n":826,"z":-2.2},{"n":830,"z":1.8},{"n":834,"z":-0.7},{"n":838,"z":2},{"n":842,"z":-1},{"n":846,"z":1.6},{"n":850,"z":-2.4},{"n":854,"z":0.8},{"n":858,"z":-0.5},{"n":862,"z":2.2},{"n":866,"z":-1.6},{"n":870,"z":1.1},{"n":874,"z":-2},{"n":878,"z":1.9},{"n":882,"z":-0.6},{"n":886,"z":2.8},{"n":890,"z":-1.5},{"n":894,"z":1},{"n":898,"z":-1.1},{"n":902,"z":2.4},{"n":906,"z":-0.4},{"n":910,"z":1.7},{"n":914,"z":-2.2},{"n":918,"z":0.8},{"n":922,"z":2.3},{"n":926,"z":-1.2},{"n":930,"z":0.6},{"n":934,"z":-2.6},{"n":938,"z":1.9},{"n":942,"z":-0.3},{"n":946,"z":1.4},{"n":950,"z":-1.8},{"n":954,"z":0.5},{"n":958,"z":2.7},{"n":962,"z":-1.4},{"n":966,"z":1},{"n":970,"z":-2.3},{"n":974,"z":2.4},{"n":978,"z":-0.8},{"n":982,"z":1.2},{"n":986,"z":-2.9},{"n":990,"z":0.9},{"n":994,"z":-1.3},{"n":998,"z":1.1}],
"p3p": [{"n":0,"z":0.5},{"n":2,"z":-3},{"n":4,"z":-7},{"n":6,"z":-8},{"n":8,"z":-6},{"n":10,"z":-6},{"n":13,"z":-5},{"n":16,"z":-5.5},{"n":19,"z":-3},{"n":21,"z":-0.6},{"n":23,"z":-4},{"n":26,"z":-9},{"n":28,"z":-11},{"n":31,"z":-13},{"n":34,"z":-15},{"n":37,"z":-17},{"n":40,"z":-18},{"n":42,"z":-16},{"n":45,"z":-20},{"n":47,"z":-19},{"n":50,"z":-14},{"n":53,"z":-10},{"n":55,"z":-7},{"n":57,"z":-6.3},{"n":59,"z":-9},{"n":62,"z":-13},{"n":64,"z":-16},{"n":67,"z":-17.3},{"n":70,"z":-15},{"n":73,"z":-16},{"n":76,"z":-14},{"n":79,"z":-13},{"n":82,"z":-15},{"n":85,"z":-15.5},{"n":88,"z":-14},{"n":91,"z":-18},{"n":94,"z":-17},{"n":97,"z":-19},{"n":100,"z":-20},{"n":102,"z":-20.5},{"n":105,"z":-18},{"n":107,"z":-16},{"n":109,"z":-15},{"n":112,"z":-17},{"n":114,"z":-19},{"n":116,"z":-20},{"n":119,"z":-17},{"n":121,"z":-16},{"n":124,"z":-15},{"n":127,"z":-14},{"n":130,"z":-16},{"n":134,"z":-13},{"n":137,"z":-15},{"n":141,"z":-16.7},{"n":144,"z":-15},{"n":148,"z":-14},{"n":151,"z":-13},{"n":155,"z":-11.6},{"n":158,"z":-13},{"n":162,"z":-15.5},{"n":165,"z":-14},{"n":168,"z":-13},{"n":172,"z":-15},{"n":175,"z":-17},{"n":178,"z":-19},{"n":180,"z":-22},{"n":183,"z":-23},{"n":186,"z":-20},{"n":188,"z":-16},{"n":191,"z":-13.7},{"n":194,"z":-15},{"n":197,"z":-17},{"n":200,"z":-19},{"n":203,"z":-17},{"n":206,"z":-14},{"n":208,"z":-12},{"n":211,"z":-13},{"n":214,"z":-12.6},{"n":217,"z":-14},{"n":221,"z":-17},{"n":224,"z":-19},{"n":228,"z":-22.6},{"n":231,"z":-23},{"n":235,"z":-24},{"n":239,"z":-24.6},{"n":242,"z":-25},{"n":246,"z":-26.2},{"n":249,"z":-25},{"n":252,"z":-26},{"n":255,"z":-24},{"n":257,"z":-21},{"n":260,"z":-17},{"n":263,"z":-18},{"n":267,"z":-20},{"n":270,"z":-21},{"n":274,"z":-22.6},{"n":277,"z":-24},{"n":281,"z":-26},{"n":284,"z":-25},{"n":288,"z":-24},{"n":291,"z":-21},{"n":295,"z":-19},{"n":298,"z":-18},{"n":302,"z":-17},{"n":305,"z":-19},{"n":309,"z":-21},{"n":312,"z":-18},{"n":316,"z":-13.7},{"n":319,"z":-15},{"n":323,"z":-16},{"n":327,"z":-17},{"n":330,"z":-16},{"n":333,"z":-15},{"n":337,"z":-14},{"n":341,"z":-12},{"n":344,"z":-11.6},{"n":347,"z":-13},{"n":351,"z":-15},{"n":354,"z":-17},{"n":358,"z":-21},{"n":361,"z":-23},{"n":364,"z":-25},{"n":368,"z":-27.8},{"n":372,"z":-28},{"n":375,"z":-30},{"n":379,"z":-30.5},{"n":383,"z":-31},{"n":386,"z":-32},{"n":390,"z":-34},{"n":393,"z":-35},{"n":397,"z":-35.5},{"n":400,"z":-36},{"n":403,"z":-36.7},{"n":407,"z":-38},{"n":410,"z":-40.3},{"n":413,"z":-38},{"n":417,"z":-35},{"n":420,"z":-32},{"n":424,"z":-28.8},{"n":428,"z":-29},{"n":432,"z":-28},{"n":435,"z":-28.5},{"n":439,"z":-27.5},{"n":442,"z":-27},{"n":446,"z":-26},{"n":449,"z":-28},{"n":453,"z":-24},{"n":456,"z":-21},{"n":460,"z":-18},{"n":463,"z":-17},{"n":467,"z":-18.5},{"n":470,"z":-19},{"n":474,"z":-21},{"n":477,"z":-22.6},{"n":481,"z":-20},{"n":484,"z":-17},{"n":488,"z":-15},{"n":492,"z":-12},{"n":495,"z":-11.5},{"n":499,"z":-11},{"n":502,"z":-10},{"n":506,"z":-9},{"n":509,"z":-7},{"n":513,"z":-5.8},{"n":516,"z":-3},{"n":520,"z":0},{"n":523,"z":-1},{"n":527,"z":-2},{"n":530,"z":-4},{"n":534,"z":-6.8},{"n":537,"z":-9},{"n":541,"z":-12.6},{"n":544,"z":-14},{"n":548,"z":-14.7},{"n":551,"z":-17},{"n":555,"z":-19.4},{"n":558,"z":-17},{"n":562,"z":-15},{"n":565,"z":-16},{"n":569,"z":-17},{"n":572,"z":-19},{"n":576,"z":-22},{"n":579,"z":-24},{"n":583,"z":-26.7},{"n":586,"z":-27},{"n":590,"z":-27.8},{"n":593,"z":-28.5},{"n":597,"z":-28.8},{"n":600,"z":-28},{"n":604,"z":-27},{"n":607,"z":-26.7},{"n":611,"z":-27.5},{"n":614,"z":-28.8},{"n":618,"z":-31},{"n":621,"z":-34},{"n":624,"z":-31},{"n":628,"z":-25.6},{"n":631,"z":-24},{"n":635,"z":-21},{"n":639,"z":-19.4},{"n":642,"z":-20},{"n":646,"z":-22},{"n":649,"z":-23},{"n":653,"z":-25},{"n":656,"z":-27},{"n":660,"z":-28.8},{"n":663,"z":-27},{"n":667,"z":-25},{"n":670,"z":-23},{"n":674,"z":-21.7},{"n":677,"z":-22},{"n":681,"z":-22.5},{"n":684,"z":-22},{"n":688,"z":-21.5},{"n":691,"z":-21.7},{"n":695,"z":-21},{"n":698,"z":-18},{"n":702,"z":-15},{"n":705,"z":-15.5},{"n":709,"z":-16},{"n":712,"z":-16.5},{"n":716,"z":-17},{"n":719,"z":-15},{"n":723,"z":-13},{"n":726,"z":-12},{"n":730,"z":-12.5},{"n":733,"z":-13},{"n":737,"z":-12},{"n":740,"z":-11},{"n":744,"z":-10.6},{"n":747,"z":-11},{"n":751,"z":-11.5},{"n":754,"z":-12},{"n":758,"z":-10},{"n":761,"z":-9},{"n":765,"z":-7.9},{"n":768,"z":-7},{"n":772,"z":-6},{"n":775,"z":-4.8},{"n":779,"z":-5},{"n":782,"z":-5.5},{"n":786,"z":-5.2},{"n":789,"z":-4},{"n":793,"z":-2.6},{"n":796,"z":-5},{"n":800,"z":-7.9},{"n":803,"z":-8.5},{"n":807,"z":-9},{"n":810,"z":-9},{"n":814,"z":-10},{"n":817,"z":-11.2},{"n":821,"z":-9},{"n":824,"z":-7.5},{"n":828,"z":-8},{"n":831,"z":-8.5},{"n":835,"z":-6},{"n":838,"z":-4.8},{"n":842,"z":-6},{"n":845,"z":-7},{"n":848,"z":-11},{"n":850,"z":-15},{"n":852,"z":-17},{"n":854,"z":-17.8},{"n":857,"z":-17},{"n":861,"z":-16.3},{"n":864,"z":-13},{"n":866,"z":-10.5},{"n":870,"z":-8},{"n":873,"z":-6.8},{"n":877,"z":-6},{"n":880,"z":-5.3},{"n":884,"z":-3},{"n":887,"z":0},{"n":891,"z":3},{"n":894,"z":6.7},{"n":898,"z":9},{"n":901,"z":10.9},{"n":905,"z":12},{"n":908,"z":14},{"n":912,"z":16},{"n":915,"z":17.2},{"n":919,"z":14},{"n":922,"z":11.5},{"n":926,"z":12},{"n":929,"z":13},{"n":933,"z":17},{"n":936,"z":20.3},{"n":940,"z":19},{"n":943,"z":17.2},{"n":947,"z":19},{"n":950,"z":21.9},{"n":954,"z":22},{"n":957,"z":23.4},{"n":961,"z":26},{"n":964,"z":28.7},{"n":968,"z":31},{"n":971,"z":32.9},{"n":975,"z":34},{"n":978,"z":35},{"n":981,"z":33},{"n":983,"z":30},{"n":986,"z":32},{"n":989,"z":34.5},{"n":992,"z":34},{"n":995,"z":33.5},{"n":997,"z":35},{"n":999,"z":37.3}]
},
"spacing": 52,
"bounds": "flush",
"vconcat": [
{
  "width": 522, "height": 285,
  "title": {"text": "α = 1", "font": "DejaVu Sans", "fontSize": 21.5, "fontWeight": "normal", "color": "#000", "offset": 4, "frame": "group"},
  "layer": [
    {"data": {"name": "p1s"}, "mark": {"type": "line", "strokeWidth": 1.5},
     "encoding": {
       "x": {"field": "n", "type": "quantitative", "scale": {"domain": [-48.3, 1049], "nice": false, "zero": false}, "axis": {"values": [0,200,400,600,800,1000], "tickCount": 30, "title": null, "format": "d", "labelOverlap": false}},
       "y": {"field": "z", "type": "quantitative", "scale": {"domain": [-1363, 408], "nice": false, "zero": false}, "axis": {"values": [-1200,-1000,-800,-600,-400,-200,0,200,400], "tickCount": 30, "title": "z(n)", "titlePadding": 8, "format": "d", "labelOverlap": false}},
       "color": {"datum": "step size", "type": "nominal",
         "scale": {"domain": ["step size", "particle position"], "range": ["#0000ff", "#000000"]},
         "legend": {"orient": "none", "legendX": 11, "legendY": 198, "title": null, "symbolType": "M-1,0H3.8", "symbolSize": 400, "symbolStrokeWidth": 2, "labelFont": "Liberation Serif", "labelFontSize": 24, "labelColor": "#000", "labelOffset": 49, "labelLimit": 400, "padding": 9, "rowPadding": 8, "strokeColor": "#cccccc", "fillColor": "rgba(255,255,255,0.8)", "cornerRadius": 4}}
     }},
    {"data": {"name": "p1p"}, "mark": {"type": "line", "strokeWidth": 1.5},
     "encoding": {
       "x": {"field": "n", "type": "quantitative"},
       "y": {"field": "z", "type": "quantitative"},
       "color": {"datum": "particle position", "type": "nominal"}
     }}
  ]
},
{
  "width": 522, "height": 285,
  "title": {"text": "α = 1.5", "font": "DejaVu Sans", "fontSize": 21.5, "fontWeight": "normal", "color": "#000", "offset": 4, "frame": "group"},
  "layer": [
    {"data": {"name": "p2s"}, "mark": {"type": "line", "strokeWidth": 1.5, "color": "#0000ff"},
     "encoding": {
       "x": {"field": "n", "type": "quantitative", "scale": {"domain": [-48.3, 1049], "nice": false, "zero": false}, "axis": {"values": [0,200,400,600,800,1000], "tickCount": 30, "title": null, "format": "d", "labelOverlap": false}},
       "y": {"field": "z", "type": "quantitative", "scale": {"domain": [-144.5, 157.4], "nice": false, "zero": false}, "axis": {"values": [-100,-50,0,50,100,150], "tickCount": 30, "title": "z(n)", "titlePadding": 8, "format": "d", "labelOverlap": false}}
     }},
    {"data": {"name": "p2p"}, "mark": {"type": "line", "strokeWidth": 1.5, "color": "#000000"},
     "encoding": {
       "x": {"field": "n", "type": "quantitative"},
       "y": {"field": "z", "type": "quantitative"}
     }}
  ]
},
{
  "width": 522, "height": 285,
  "title": {"text": "α = 2", "font": "DejaVu Sans", "fontSize": 21.5, "fontWeight": "normal", "color": "#000", "offset": 4, "frame": "group"},
  "layer": [
    {"data": {"name": "p3s"}, "mark": {"type": "line", "strokeWidth": 1.5, "color": "#0000ff"},
     "encoding": {
       "x": {"field": "n", "type": "quantitative", "scale": {"domain": [-48.3, 1049], "nice": false, "zero": false}, "axis": {"values": [0,200,400,600,800,1000], "tickCount": 30, "title": "Step n", "titlePadding": 6, "format": "d", "labelOverlap": false}},
       "y": {"field": "z", "type": "quantitative", "scale": {"domain": [-44.3, 45.1], "nice": false, "zero": false}, "axis": {"values": [-40,-30,-20,-10,0,10,20,30,40], "tickCount": 30, "title": "z(n)", "titlePadding": 8, "format": "d", "labelOverlap": false}}
     }},
    {"data": {"name": "p3p"}, "mark": {"type": "line", "strokeWidth": 1.5, "color": "#000000"},
     "encoding": {
       "x": {"field": "n", "type": "quantitative"},
       "y": {"field": "z", "type": "quantitative"}
     }}
  ]
}
]
}
